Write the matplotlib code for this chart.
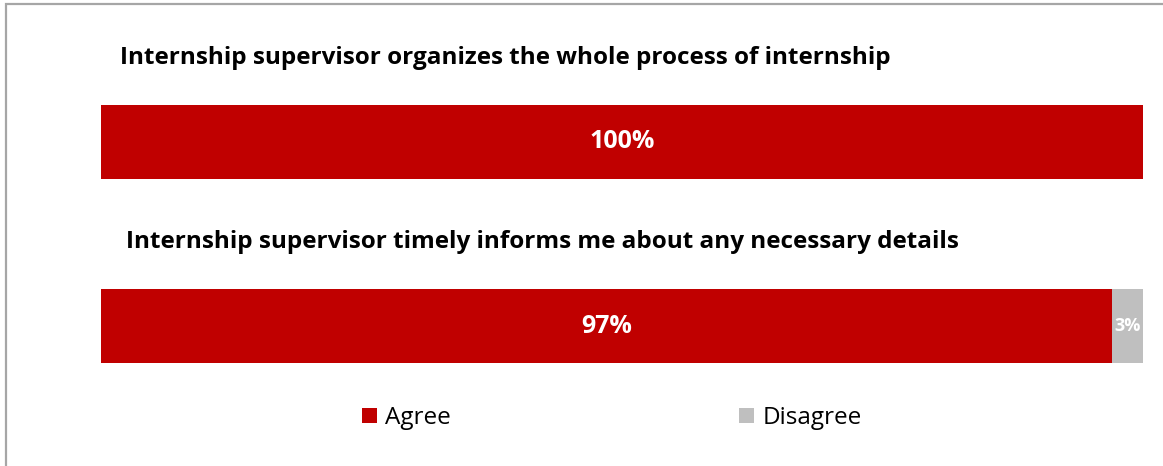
import matplotlib
matplotlib.use("Agg")
import matplotlib.pyplot as plt
from matplotlib.patches import Rectangle, Patch

# dati del grafico
domande = [
    "Internship supervisor organizes the whole process of internship",
    "Internship supervisor timely informs me about any necessary details",
]
agree = [100, 97]
disagree = [0, 3]
serie = ["Agree", "Disagree"]

colore_agree = "#C00000"
colore_disagree = "#BFBFBF"

plt.rcParams["font.family"] = ["Open Sans", "DejaVu Sans"]

W, H = 1163, 466
fig = plt.figure(figsize=(W / 100, H / 100), dpi=100)

# cornice grigia del riquadro
fig.patches.append(Rectangle((5.5 / W, -0.05), 1.2, 1 - 4 / H + 0.05, transform=fig.transFigure,
                             fill=False, edgecolor="#A6A6A6", linewidth=1.6))

ax = fig.add_axes([101 / W, 1 - 363 / H, 1042 / W, 258 / H])
altezza = 0.401
pos = list(range(len(domande)))
ax.barh(pos, agree, height=altezza, color=colore_agree, label=serie[0])
ax.barh(pos, disagree, left=agree, height=altezza, color=colore_disagree, label=serie[1])
ax.set_xlim(0, 100)
ax.set_ylim(1 + altezza / 2, -altezza / 2)
ax.axis("off")

# etichette dentro le barre
for i in pos:
    if agree[i] > 0:
        ax.text(agree[i] / 2, i, f"{agree[i]}%", ha="center", va="center",
                color="white", fontsize=18, fontweight="bold")
    if disagree[i] > 0:
        ax.text(agree[i] + disagree[i] / 2, i, f"{disagree[i]}%", ha="center", va="center",
                color="white", fontsize=13, fontweight="bold")

# titoli delle domande sopra le barre
offs_x = [120, 126]
for i, d in enumerate(domande):
    ax.text((offs_x[i] - 101) / 1042 * 100, i - 0.455, d, ha="left", va="center",
            fontsize=17.5, fontweight="bold", color="black")

handles = [Patch(facecolor=colore_agree, edgecolor="none"),
           Patch(facecolor=colore_disagree, edgecolor="none")]
fig.legend(handles, serie, loc="center", bbox_to_anchor=(612 / W, 1 - 418 / H), ncol=2,
           frameon=False, fontsize=17.5, handlelength=0.6, handleheight=0.6,
           handletextpad=0.35, columnspacing=11.85)

fig.savefig("out.png", dpi=100)
